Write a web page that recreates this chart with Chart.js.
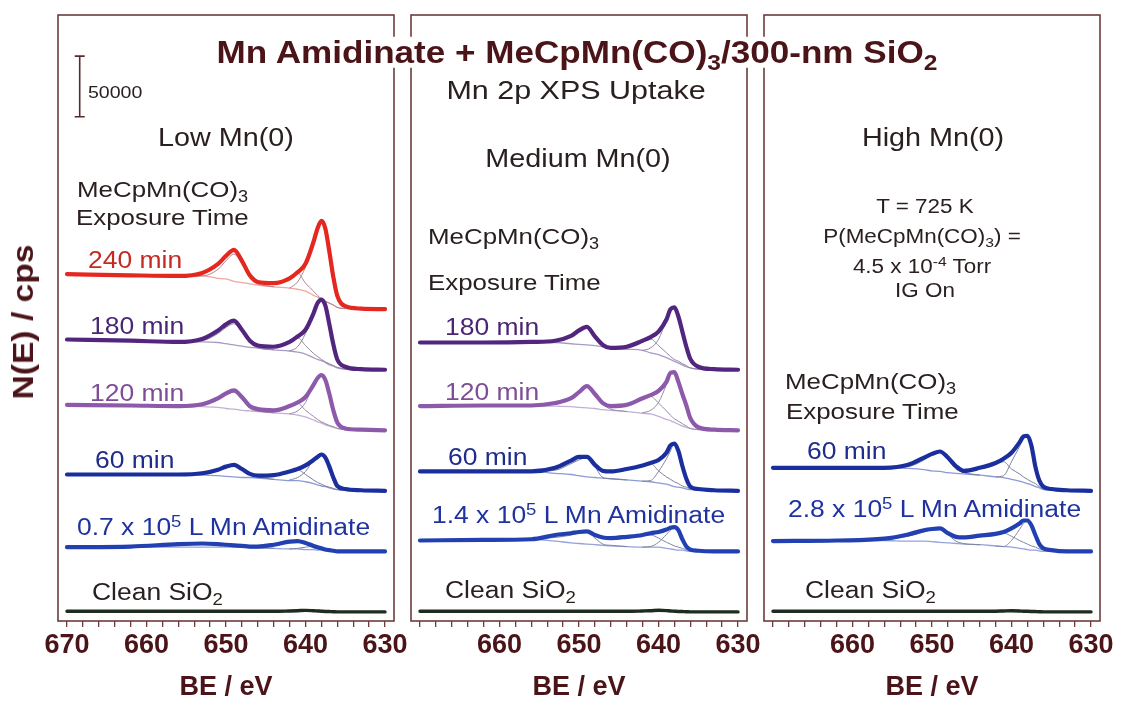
<!DOCTYPE html>
<html>
<head>
<meta charset="utf-8">
<script src="https://cdn.jsdelivr.net/npm/chart.js@4.4.0/dist/chart.umd.min.js"></script>
<style>
  body { margin: 0; background: #fff; }
  #wrap { position: relative; width: 1122px; height: 711px; overflow: hidden;
          font-family: "Liberation Sans", Arial, Helvetica, sans-serif; color: #2b2020; }
  canvas { position: absolute; top: 0; }
  .t { position: absolute; white-space: nowrap; line-height: 1; font-size: 23px;
       transform-origin: 0 50%; transform: translateY(-50%) scaleX(1.15); }
  .c { transform-origin: 50% 50%; transform: translate(-50%, -50%) scaleX(1.15); }
  .h { font-size: 22.5px; }
  .p { font-size: 19.5px; }
  sub { font-size: 70%; vertical-align: baseline; position: relative; top: 0.32em; line-height: 0; }
  sup { font-size: 70%; vertical-align: baseline; position: relative; top: -0.5em; line-height: 0; }
  .maroon { color: #4a1418; font-weight: bold; }
</style>
</head>
<body>
<div id="wrap">
  <canvas id="low" width="396" height="711" style="left:28px"></canvas>
  <canvas id="med" width="396" height="711" style="left:381px"></canvas>
  <canvas id="high" width="396" height="711" style="left:734px"></canvas>

  <div class="t c maroon" style="left:577px;top:52px;font-size:30.5px;background:#fff;padding:0 3px">Mn Amidinate + MeCpMn(CO)<sub>3</sub>/300-nm SiO<sub>2</sub></div>
  <div class="t c" style="left:576px;top:90px;font-size:26.5px">Mn 2p XPS Uptake</div>
  <div class="t maroon" style="left:23px;top:322px;font-size:30px;transform-origin:50% 50%;transform:translate(-50%,-50%) rotate(-90deg) scaleX(1.12)">N(E) / cps</div>
  <div class="t" style="left:88px;top:92px;font-size:17px">50000</div>

  <!-- low -->
  <div class="t c" style="left:226px;top:137px;font-size:25px">Low Mn(0)</div>
  <div class="t h" style="left:77px;top:190px">MeCpMn(CO)<sub>3</sub></div>
  <div class="t h" style="left:76px;top:218px">Exposure Time</div>
  <div class="t" style="left:88px;top:260px;color:#c42a22">240 min</div>
  <div class="t" style="left:90px;top:326px;color:#4a2575">180 min</div>
  <div class="t" style="left:90px;top:393px;color:#7d4d98">120 min</div>
  <div class="t" style="left:95px;top:460px;color:#1f2c8a">60 min</div>
  <div class="t" style="left:77px;top:527px;color:#1f33a0">0.7 x 10<sup>5</sup> L Mn Amidinate</div>
  <div class="t" style="left:92px;top:592px">Clean SiO<sub>2</sub></div>

  <!-- medium -->
  <div class="t c" style="left:578px;top:158px;font-size:25px">Medium Mn(0)</div>
  <div class="t h" style="left:428px;top:237px">MeCpMn(CO)<sub>3</sub></div>
  <div class="t h" style="left:428px;top:283px">Exposure Time</div>
  <div class="t" style="left:445px;top:327px;color:#4a2575">180 min</div>
  <div class="t" style="left:445px;top:392px;color:#7d4d98">120 min</div>
  <div class="t" style="left:448px;top:457px;color:#1f2c8a">60 min</div>
  <div class="t" style="left:432px;top:515px;color:#1f33a0">1.4 x 10<sup>5</sup> L Mn Amidinate</div>
  <div class="t" style="left:445px;top:590px">Clean SiO<sub>2</sub></div>

  <!-- high -->
  <div class="t c" style="left:933px;top:137px;font-size:25px">High Mn(0)</div>
  <div class="t c p" style="left:925px;top:207px">T = 725 K</div>
  <div class="t c p" style="left:922px;top:237px">P(MeCpMn(CO)<sub>3</sub>) =</div>
  <div class="t c p" style="left:922px;top:267px">4.5 x 10<sup>-4</sup> Torr</div>
  <div class="t c p" style="left:925px;top:291px">IG On</div>
  <div class="t h" style="left:785px;top:382px">MeCpMn(CO)<sub>3</sub></div>
  <div class="t h" style="left:786px;top:412px">Exposure Time</div>
  <div class="t" style="left:807px;top:451px;color:#1f2c8a">60 min</div>
  <div class="t" style="left:788px;top:509px;color:#1f33a0">2.8 x 10<sup>5</sup> L Mn Amidinate</div>
  <div class="t" style="left:805px;top:590px">Clean SiO<sub>2</sub></div>
</div>

<script>
// binding energy grids (eV)
const be = [670, 662, 656, 653, 651, 650, 649, 648, 647, 646, 644, 642, 641, 640, 639, 638.5, 638, 637.5, 637, 636.5, 636, 635, 633, 630];
const beP12 = [656, 653, 651, 650, 649, 648, 647, 646, 644];
const beBroad = [646, 644, 642, 641, 640, 639, 638.5, 638, 637.5, 637, 636.5, 636, 635];
const beSharp = [642, 641, 640, 639, 638.5, 638, 637.5, 637, 636.5, 636, 635];

// intensities in 10^3 cps, relative to each trace's 630 eV level
// Low Mn(0)
const low240 = [29, 28, 27.5, 30, 37.5, 44, 49, 40, 28, 22.5, 21.5, 25.5, 30.5, 37.5, 55.5, 66.5, 73, 66.5, 47.5, 26.5, 11, 2.5, 0.5, 0];
const low240Bg = [29, 28, 27.5, 27.5, 25.5, 25, 23, 22, 21, 20, 18.5, 17.5, 16.5, 15, 11.5, 10, 8.5, 6.5, 5, 3.5, 1.5, 0.5, 0, 0];
const low240Sharp = [17.5, 22.5, 35, 55.5, 66.5, 73, 66.5, 47.5, 26.5, 11, 2.5];
const low240Broad = [21.5, 21, 25.5, 30, 21.5, 15, 11.5, 8.5, 6.5, 5, 3.5, 1.5, 0.5];
const low240P12 = [27.5, 27.5, 33, 40, 45.5, 37.5, 25.5, 21, 18.5];

const low180 = [25, 24, 23, 25.5, 32.5, 37.5, 40.5, 33, 24, 20, 19, 23, 27.5, 33, 46.5, 55, 58, 53, 37.5, 21, 8.5, 2.5, 0.5, 0];
const low180Bg = [25, 24, 23, 23, 22.5, 21.5, 20.5, 19.5, 18.5, 18, 16.5, 15.5, 14.5, 13, 10, 8.5, 7.5, 6, 4, 3, 1.5, 0.5, 0, 0];
const low180Sharp = [15.5, 19, 30, 46.5, 55, 58, 53, 37.5, 21, 8.5, 2.5];
const low180Broad = [19, 18.5, 22.5, 26.5, 20, 13.5, 11, 8.5, 6.5, 5, 3.5, 2, 0.5];
const low180P12 = [23, 24, 30, 35, 38, 31.5, 22.5, 18, 16.5];

const low120 = [21, 20.5, 20, 21.5, 26.5, 30.5, 33, 27.5, 20, 17.5, 16.5, 20, 23, 27.5, 37.5, 43, 45.5, 41.5, 30, 16.5, 6.5, 1.5, 0.5, 0];
const low120Bg = [21, 20.5, 20, 19.5, 19, 18, 17.5, 16.5, 16, 15.5, 14.5, 13.5, 12.5, 11, 8.5, 7, 6, 4.5, 3.5, 2.5, 1.5, 0.5, 0, 0];
const low120Sharp = [13.5, 16, 23, 37.5, 43, 45.5, 41.5, 30, 16.5, 6.5, 1.5];
const low120Broad = [16.5, 16, 19, 22.5, 16.5, 11.5, 9, 7, 5.5, 4, 3, 1.5, 0.5];
const low120P12 = [20, 20.5, 25, 29, 31.5, 25.5, 18, 16, 14.5];

const low60 = [13.5, 13.5, 13.5, 14.5, 17.5, 20, 21.5, 18, 14, 12.5, 13, 16, 18, 21, 25.5, 28, 30, 27.5, 20, 11, 4, 1.5, 0.5, 0];
const low60Bg = [13.5, 13.5, 13.5, 13, 12.5, 12, 11.5, 11, 11, 10.5, 9.5, 8.5, 8.5, 7.5, 6, 5, 4, 3.5, 2.5, 1.5, 1, 0.5, 0, 0];
const low60Sharp = [9, 11, 16, 25.5, 28, 30, 27.5, 20, 11, 4, 1.5];
const low60Broad = [11.5, 12.5, 15.5, 17.5, 13.5, 9, 7, 5.5, 4, 3, 2, 1, 0.5];
const low60P12 = [13.5, 13.5, 16.5, 19, 21, 17.5, 13.5, 11.5, 9.5];

const lowAmid = [3.5, 4, 6, 6.5, 6, 5.5, 5, 4.5, 4, 4, 5.5, 8, 8.5, 7, 4.5, 3.5, 2.5, 1.5, 1, 0.5, 0, 0, 0, 0];
const lowAmidBg = [3.5, 3.5, 3.5, 3.5, 3.5, 3.5, 3.5, 3.5, 3, 3, 2.5, 2, 2, 1.5, 1.5, 1, 1, 0.5, 0.5, 0, 0, 0, 0, 0];
const lowAmidSharp = [2, 2.5, 3.5, 4, 3.5, 2.5, 1.5, 1, 0.5, 0, 0];
const lowAmidBroad = [3.5, 5, 7.5, 8, 6, 3, 2, 1.5, 1, 0.5, 0, 0, 0];
const lowAmidP12 = [5, 6, 5.5, 5, 4.5, 4, 3.5, 3, 2.5];

const lowClean = [0.5, 0.5, 0.5, 0.5, 0.5, 0.5, 0.5, 0.5, 0.5, 0.5, 0.5, 0.8, 1, 1.3, 1, 0.8, 0.6, 0.4, 0.3, 0.2, 0, 0, 0, 0];

// Medium Mn(0)
const med180 = [22.5, 22.5, 23, 24, 28, 32.5, 35.5, 27.5, 20.5, 18, 19, 24, 27, 31.5, 41.5, 50, 51.5, 44, 31.5, 19, 9, 2.5, 0.5, 0];
const med180Bg = [22.5, 22.5, 22.5, 22.5, 21.5, 21, 20.5, 20, 19, 18, 17, 16, 14, 12.5, 10, 8.5, 7, 5.5, 4, 2.5, 1.5, 0.5, 0, 0];
const med180Sharp = [16, 18, 25, 41.5, 50, 51.5, 44, 31.5, 19, 9, 2.5];
const med180Broad = [18, 18.5, 23.5, 25.5, 20, 14, 11, 8.5, 7, 5, 3.5, 1.5, 0.5];
const med180P12 = [23, 23.5, 27.5, 31.5, 35, 26.5, 20, 18, 17];

const med120 = [20, 20.5, 20.5, 22.5, 26.5, 31.5, 36.5, 30, 22.5, 20, 21, 26.5, 29, 32.5, 40, 47.5, 48, 40, 30, 20.5, 10, 2.5, 0.5, 0];
const med120Bg = [20, 20, 20, 20, 19.5, 19, 18.5, 18, 17, 16.5, 15.5, 14, 13.5, 11.5, 9, 8, 6.5, 5, 3.5, 2.5, 1.5, 0.5, 0, 0];
const med120Sharp = [14.5, 16.5, 23, 38, 47.5, 48, 40, 30, 20.5, 10, 2.5];
const med120Broad = [19.5, 20.5, 26, 28, 22.5, 16, 12.5, 9.5, 7.5, 5.5, 3.5, 1.5, 0.5];
const med120P12 = [20.5, 22, 25.5, 30.5, 35.5, 29, 21.5, 17.5, 15.5];

const med60 = [16, 16, 16, 19, 25, 28, 28, 21.5, 16.5, 16, 18, 21, 23, 25.5, 31.5, 37.5, 39, 33, 20.5, 10, 3.5, 1.5, 0.5, 0];
const med60Bg = [16, 16, 16, 14.5, 13.5, 12.5, 11.5, 11, 10.5, 10, 9, 8, 7.5, 6.5, 5.5, 4.5, 3.5, 3, 2.5, 1.5, 1, 0.5, 0, 0];
const med60Sharp = [8, 8.5, 16, 26.5, 33, 39, 33, 20.5, 10, 3.5, 1.5];
const med60Broad = [15.5, 18, 20.5, 22.5, 16.5, 11.5, 9.5, 7.5, 6, 4, 3, 1.5, 0.5];
const med60P12 = [16, 17, 22.5, 25.5, 27.5, 20, 11, 10, 9];

const medAmid = [9, 9.5, 10, 13.5, 15, 16, 16.5, 13.5, 11.5, 11, 12, 13.5, 15, 16, 18, 19.5, 20, 17.5, 10, 4, 1.5, 0.5, 0, 0];
const medAmidBg = [9, 9.5, 10, 8.5, 7, 6.5, 6, 5.5, 5, 4.5, 4, 3.5, 3.5, 3.5, 2.5, 2, 1.5, 1, 1, 0.5, 0, 0, 0, 0];
const medAmidSharp = [3.5, 4, 7.5, 14, 17.5, 20, 17.5, 10, 4, 1.5, 0.5];
const medAmidBroad = [10.5, 11, 13, 13.5, 11, 7.5, 6, 4.5, 3.5, 2.5, 1.5, 0.5, 0];
const medAmidP12 = [10, 11.5, 13.5, 15.5, 16, 11, 6, 5, 4];

const medClean = [0.5, 0.5, 0.5, 0.5, 0.5, 0.5, 0.5, 0.5, 0.5, 0.5, 0.5, 0.8, 1, 1.4, 1.1, 0.8, 0.6, 0.4, 0.3, 0.2, 0, 0, 0, 0];

// High Mn(0)
const high60 = [19, 19, 19, 21.5, 27.5, 30.5, 32.5, 27.5, 20.5, 16.5, 19, 23, 26.5, 31.5, 40, 45, 45.5, 37.5, 20, 8.5, 3.5, 1.5, 0.5, 0];
const high60Bg = [19, 19, 19, 18.5, 17.5, 16.5, 16, 15, 14.5, 14, 13, 11.5, 11, 9.5, 8, 7, 6, 5, 3.5, 2.5, 1, 0.5, 0, 0];
const high60Sharp = [11.5, 12.5, 24, 36.5, 42.5, 45.5, 37.5, 20, 8.5, 3.5, 1.5];
const high60Broad = [16, 18.5, 23, 24, 18, 14, 11.5, 9.5, 7.5, 6, 3.5, 2, 0.5];
const high60P12 = [19, 20, 25.5, 30, 32, 25.5, 18, 15, 13];

const highAmid = [8.5, 9, 10.5, 14, 17.5, 18.5, 19, 15, 12, 11.5, 13, 14.5, 16, 19, 23, 25.5, 25.5, 21.5, 13.5, 6, 2.5, 1, 0, 0];
const highAmidBg = [8.5, 9, 9, 8.5, 8.5, 8, 7.5, 7, 6.5, 6, 5.5, 4.5, 4, 3.5, 2.5, 2, 1.5, 1, 1, 0.5, 0, 0, 0, 0];
const highAmidSharp = [4.5, 4, 9, 18, 23, 25.5, 21.5, 13.5, 6, 2.5, 1];
const highAmidBroad = [11, 12.5, 14, 15, 12.5, 9, 7.5, 6, 4.5, 3.5, 2, 1, 0];
const highAmidP12 = [9.5, 12.5, 16, 18, 18.5, 14, 8.5, 6.5, 5.5];

const highClean = [0.5, 0.5, 0.5, 0.5, 0.5, 0.5, 0.5, 0.5, 0.5, 0.5, 0.5, 0.6, 0.8, 1, 0.8, 0.6, 0.5, 0.4, 0.3, 0.2, 0, 0, 0, 0];

// vertical stacking offsets (10^3 cps)
const lowOffsets = [250, 200, 150, 100, 50, 0];
const medOffsets = [200, 150, 100, 50, 0];
const highOffsets = [100, 50, 0];

// scale bar: 50000 cps
const scaleBarBE = 668.4;
const scaleBarFrom = 409;
const scaleBarSize = 50;

const MAROON = "#4a1418";
const BOX = "#6e3b3b";
const FONT = "Liberation Sans, Arial, sans-serif";

const red = { color: "#e4271f", thin: "#f2a5a2", comp: "#a88893" };
const purple = { color: "#52267f", thin: "#a99bc4", comp: "#8f839e" };
const lilac = { color: "#8d5aab", thin: "#c3b0d6", comp: "#968aa2" };
const blue = { color: "#1b2e9e", thin: "#8c9bd8", comp: "#7d8199" };
const blue2 = { color: "#2240b2", thin: "#93a3de", comp: "#7f859f" };
const dark = { color: "#1f2b1f" };

function line(xs, ys, off, color, width, order) {
  return {
    data: xs.map((x, i) => ({ x: x, y: ys[i] + off })),
    borderColor: color,
    borderWidth: width,
    order: order,
    fill: false
  };
}

function spectrum(s, off) {
  const sets = [];
  if (s.bg) sets.push(line(be, s.bg, off, s.style.thin, 1.3, 2));
  if (s.p12) sets.push(line(beP12, s.p12, off, s.style.comp, 1, 1));
  if (s.broad) sets.push(line(beBroad, s.broad, off, s.style.comp, 1, 1));
  if (s.sharp) sets.push(line(beSharp, s.sharp, off, s.style.comp, 1, 1));
  sets.push(line(be, s.total, off, s.style.color, s.bg ? 4.2 : 3.4, 0));
  return sets;
}

const boxPlugin = {
  id: "box",
  beforeDatasetsDraw(chart) {
    const a = chart.chartArea, ctx = chart.ctx;
    ctx.save();
    ctx.strokeStyle = BOX;
    ctx.lineWidth = 1.6;
    ctx.strokeRect(a.left, a.top, a.right - a.left, a.bottom - a.top);
    ctx.restore();
  }
};

const scaleBarPlugin = {
  id: "scalebar",
  afterDatasetsDraw(chart) {
    const x = chart.scales.x.getPixelForValue(scaleBarBE);
    const y0 = chart.scales.y.getPixelForValue(scaleBarFrom);
    const y1 = chart.scales.y.getPixelForValue(scaleBarFrom + scaleBarSize);
    const ctx = chart.ctx;
    ctx.save();
    ctx.strokeStyle = "#5a2a2a";
    ctx.lineWidth = 1.6;
    ctx.beginPath();
    ctx.moveTo(x, y0); ctx.lineTo(x, y1);
    ctx.moveTo(x - 5, y0); ctx.lineTo(x + 5, y0);
    ctx.moveTo(x - 5, y1); ctx.lineTo(x + 5, y1);
    ctx.stroke();
    ctx.restore();
  }
};

function makePanel(id, spectra, offsets, showFirst, extraPlugins) {
  let datasets = [];
  spectra.forEach((s, i) => { datasets = datasets.concat(spectrum(s, offsets[i])); });
  new Chart(document.getElementById(id), {
    type: "line",
    data: { datasets: datasets },
    plugins: [boxPlugin].concat(extraPlugins || []),
    options: {
      responsive: false,
      animation: false,
      events: [],
      layout: { padding: { left: 30, right: 30, top: 15, bottom: 0 } },
      plugins: { legend: { display: false }, tooltip: { enabled: false } },
      elements: {
        point: { radius: 0 },
        line: { cubicInterpolationMode: "monotone", borderCapStyle: "round", borderJoinStyle: "round" }
      },
      scales: {
        x: {
          type: "linear",
          reverse: true,
          min: 628.87,
          max: 671.13,
          afterFit(scale) { scale.height = 90; },
          border: { display: false },
          grid: { drawOnChartArea: false, drawTicks: true, tickLength: 6, color: BOX, lineWidth: 1.3 },
          ticks: {
            stepSize: 2,
            includeBounds: false,
            autoSkip: false,
            maxRotation: 0,
            padding: 2,
            color: MAROON,
            font: { family: FONT, size: 27, weight: "bold" },
            callback(v) {
              if (v % 10 !== 0) return "";
              if (!showFirst && v === 670) return "";
              return String(v);
            }
          },
          title: {
            display: true,
            text: "BE / eV",
            color: MAROON,
            font: { family: FONT, size: 27, weight: "bold" },
            padding: { top: 0, bottom: 7 }
          }
        },
        y: { display: false, min: -7.5, max: 493 }
      }
    }
  });
}

makePanel("low", [
  { total: low240, bg: low240Bg, sharp: low240Sharp, broad: low240Broad, p12: low240P12, style: red },
  { total: low180, bg: low180Bg, sharp: low180Sharp, broad: low180Broad, p12: low180P12, style: purple },
  { total: low120, bg: low120Bg, sharp: low120Sharp, broad: low120Broad, p12: low120P12, style: lilac },
  { total: low60, bg: low60Bg, sharp: low60Sharp, broad: low60Broad, p12: low60P12, style: blue },
  { total: lowAmid, bg: lowAmidBg, sharp: lowAmidSharp, broad: lowAmidBroad, p12: lowAmidP12, style: blue2 },
  { total: lowClean, style: dark }
], lowOffsets, true, [scaleBarPlugin]);

makePanel("med", [
  { total: med180, bg: med180Bg, sharp: med180Sharp, broad: med180Broad, p12: med180P12, style: purple },
  { total: med120, bg: med120Bg, sharp: med120Sharp, broad: med120Broad, p12: med120P12, style: lilac },
  { total: med60, bg: med60Bg, sharp: med60Sharp, broad: med60Broad, p12: med60P12, style: blue },
  { total: medAmid, bg: medAmidBg, sharp: medAmidSharp, broad: medAmidBroad, p12: medAmidP12, style: blue2 },
  { total: medClean, style: dark }
], medOffsets, false);

makePanel("high", [
  { total: high60, bg: high60Bg, sharp: high60Sharp, broad: high60Broad, p12: high60P12, style: blue },
  { total: highAmid, bg: highAmidBg, sharp: highAmidSharp, broad: highAmidBroad, p12: highAmidP12, style: blue2 },
  { total: highClean, style: dark }
], highOffsets, false);
</script>
</body>
</html>
